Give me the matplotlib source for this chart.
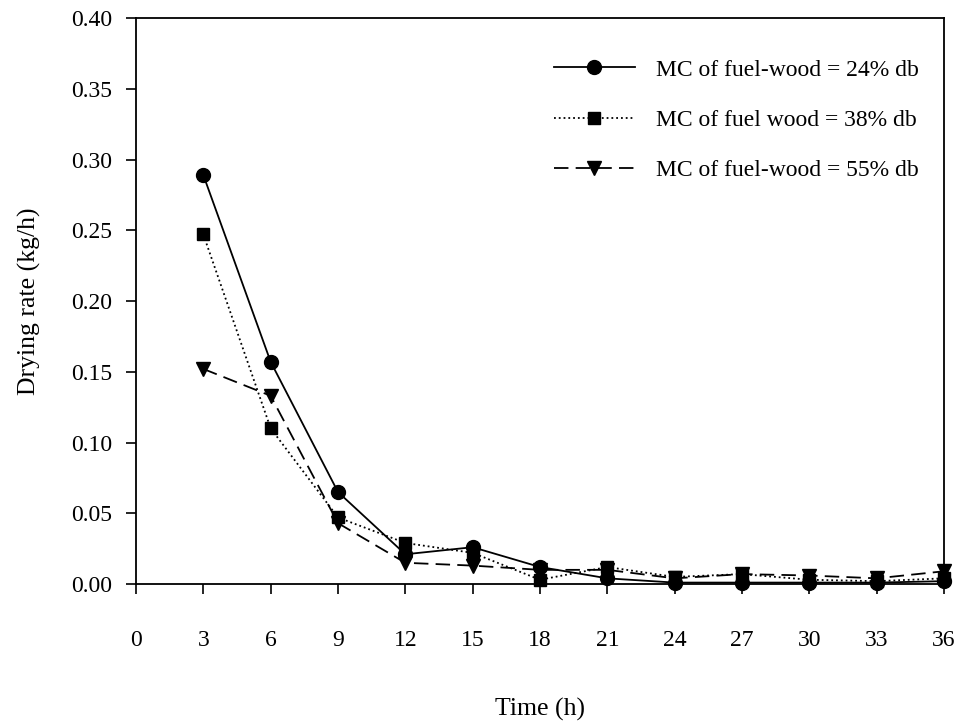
import matplotlib
matplotlib.use("Agg")
import matplotlib.pyplot as plt

time_h = [3, 6, 9, 12, 15, 18, 21, 24, 27, 30, 33, 36]
mc24 = [0.289, 0.157, 0.065, 0.021, 0.026, 0.012, 0.004, 0.001, 0.001, 0.001, 0.001, 0.002]
mc38 = [0.247, 0.110, 0.047, 0.029, 0.022, 0.003, 0.012, 0.005, 0.007, 0.003, 0.002, 0.004]
mc55 = [0.152, 0.133, 0.043, 0.015, 0.013, 0.010, 0.010, 0.004, 0.007, 0.006, 0.004, 0.009]
labels = ["MC of fuel-wood = 24% db", "MC of fuel wood = 38% db", "MC of fuel-wood = 55% db"]
xticks = list(range(0, 37, 3))
yticks = [0.00, 0.05, 0.10, 0.15, 0.20, 0.25, 0.30, 0.35, 0.40]

plt.rcParams['font.family'] = ['Liberation Serif', 'DejaVu Serif']
plt.rcParams['font.size'] = 17

fig = plt.figure(figsize=(9.59, 7.22), dpi=100)
ax = fig.add_axes([136/959, 1-584/722, (944-136)/959, (584-18)/722])

ax.plot(time_h, mc24, color='black', linestyle='-', linewidth=1.3, marker='o',
        markersize=10, label=labels[0], clip_on=False, zorder=3)
ax.plot(time_h, mc38, color='black', linestyle=':', linewidth=1.3, marker='s',
        markersize=9, label=labels[1], clip_on=False, zorder=3)
ax.plot(time_h, mc55, color='black', linestyle=(0, (8, 4)), linewidth=1.3, marker='v',
        markersize=10, label=labels[2], clip_on=False, zorder=3)

ax.set_xlim(0, 36)
ax.set_ylim(0, 0.40)
ax.set_xticks(xticks)
ax.set_yticks(yticks)
ax.set_yticklabels([f"{v:.2f}" for v in yticks])
ax.tick_params(direction='out', length=7, width=1.2, colors='black', labelsize=17)
ax.tick_params(axis='x', pad=26)
ax.tick_params(axis='y', pad=10)
for s in ax.spines.values():
    s.set_linewidth(1.3)

ax.set_xlabel("Time (h)", fontsize=18.5, labelpad=34)
ax.set_ylabel("Drying rate (kg/h)", fontsize=18.5, labelpad=22)

leg = ax.legend(loc='upper right', frameon=False, handlelength=3.4, handletextpad=0.9,
                labelspacing=1.22, fontsize=17, bbox_to_anchor=(0.995, 0.965))

fig.savefig("out.png", dpi=100)
